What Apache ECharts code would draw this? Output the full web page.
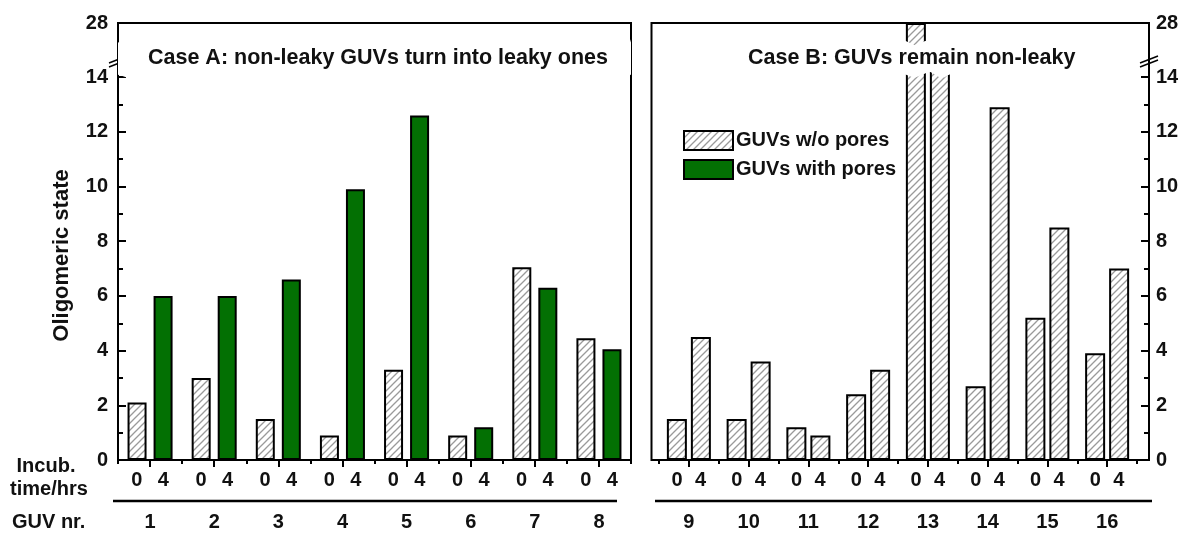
<!DOCTYPE html>
<html>
<head>
<meta charset="utf-8">
<script src="https://cdn.jsdelivr.net/npm/echarts@6/dist/echarts.min.js"></script>
<style>
html,body{margin:0;padding:0;background:#fff;}
#chart{width:1187px;height:533px;}
</style>
</head>
<body>
<div id="chart"></div>
<script>
// ---- data ----
const guvLeft = ['1','2','3','4','5','6','7','8'];
const guvRight = ['9','10','11','12','13','14','15','16'];
const timeLabels = ['0','4'];
const leftT0 = [2.1, 3.0, 1.5, 0.9, 3.3, 0.9, 7.05, 4.45];
const leftT4 = [6.0, 6.0, 6.6, 9.9, 12.6, 1.2, 6.3, 4.05];
const rightT0 = [1.5, 1.5, 1.2, 2.4, 28, 2.7, 5.2, 3.9];
const rightT4 = [4.5, 3.6, 0.9, 3.3, 20, 12.9, 8.5, 7.0];
const yTickLabels = [0, 2, 4, 6, 8, 10, 12, 14, 28];
const yMinorTicks = [1, 3, 5, 7, 9, 11, 13];
const yBreak = [14.1, 27.3];
const seriesNames = ['GUVs w/o pores', 'GUVs with pores'];
const titles = ['Case A: non-leaky GUVs turn into leaky ones', 'Case B: GUVs remain non-leaky'];

// ---- styles ----
const FONT = '"Liberation Sans", Arial, sans-serif';
function hatch() {
  const s = 7;
  const c = document.createElement('canvas');
  c.width = s; c.height = s;
  const ctx = c.getContext('2d');
  ctx.fillStyle = '#ffffff';
  ctx.fillRect(0, 0, s, s);
  ctx.strokeStyle = '#9a9a9a';
  ctx.lineWidth = 1.3;
  ctx.beginPath();
  ctx.moveTo(0, s); ctx.lineTo(s, 0);
  ctx.moveTo(-2, 2); ctx.lineTo(2, -2);
  ctx.moveTo(s - 2, s + 2); ctx.lineTo(s + 2, s - 2);
  ctx.stroke();
  return { image: c, repeat: 'repeat' };
}
const HATCH = hatch();
const GREEN = '#037003';

const chart = echarts.init(document.getElementById('chart'), null, { renderer: 'canvas' });

function yBase(grid, pos, offset) {
  return {
    type: 'value', gridIndex: grid, position: pos, offset: offset,
    min: 0, max: 28,
    breaks: [{ start: yBreak[0], end: yBreak[1], gap: 1.18 }],
    breakArea: {
      show: true,
      itemStyle: { color: '#ffffff', borderColor: '#ffffff', borderWidth: 0, opacity: 1 },
      zigzagAmplitude: 3
    },
    splitLine: { show: false }
  };
}
function yMajor(grid, pos, offset, margin, showName) {
  return Object.assign(yBase(grid, pos, offset), {
    name: showName ? 'Oligomeric state' : '',
    nameLocation: 'middle', nameGap: 45,
    nameTextStyle: { fontFamily: FONT, fontWeight: 'bold', fontSize: 22, color: '#111', padding: [0, 28, 0, 0] },
    axisLine: { show: true, lineStyle: { color: '#000', width: 2 } },
    axisTick: { show: true, inside: true, length: 8, customValues: yTickLabels, lineStyle: { color: '#000', width: 2 } },
    axisLabel: {
      margin: margin, fontFamily: FONT, fontWeight: 'bold', fontSize: 20, color: '#111',
      customValues: yTickLabels
    }
  });
}
function yMinor(grid, pos, offset) {
  return Object.assign(yBase(grid, pos, offset), {
    axisLine: { show: false },
    axisTick: { show: true, inside: true, length: 5, customValues: yMinorTicks, lineStyle: { color: '#000', width: 2 } },
    axisLabel: { show: false }
  });
}

function xAxisTime(grid, data, w) {
  return {
    type: 'category', gridIndex: grid, position: 'bottom', data: data,
    axisLine: { show: false },
    axisTick: { show: true, length: 4, alignWithLabel: false, lineStyle: { color: '#000', width: 2 } },
    axisLabel: {
      margin: 10, interval: 0,
      formatter: function () { return '{a|' + timeLabels[0] + '}{b|' + timeLabels[1] + '}'; },
      rich: {
        a: { width: w, align: 'center', fontFamily: FONT, fontWeight: 'bold', fontSize: 20, color: '#111' },
        b: { width: w, align: 'center', fontFamily: FONT, fontWeight: 'bold', fontSize: 20, color: '#111' }
      }
    },
    splitLine: { show: false }
  };
}
function xAxisGuv(grid, data) {
  return {
    type: 'category', gridIndex: grid, position: 'bottom', data: data,
    axisLine: { show: false },
    axisTick: { show: true, length: 7, alignWithLabel: true, lineStyle: { color: '#000', width: 2 } },
    axisLabel: { margin: 52, interval: 0, fontFamily: FONT, fontWeight: 'bold', fontSize: 20, color: '#111' },
    splitLine: { show: false }
  };
}

const barBorder = { borderColor: '#000', borderWidth: 2 };
const txt = (text, x, y, align) => ({
  type: 'text', silent: true, z: 100,
  style: { text: text, x: x, y: y, fill: '#111', font: 'bold 20px ' + FONT, textAlign: align || 'center', textVerticalAlign: 'middle' }
});
const ln = (x1, y1, x2, y2, w) => ({
  type: 'line', silent: true, z: 100,
  shape: { x1: x1, y1: y1, x2: x2, y2: y2 }, style: { stroke: '#000', lineWidth: w || 2 }
});
const box = (x, y, w, h) => ({
  type: 'rect', silent: true, z: 100,
  shape: { x: x, y: y, width: w, height: h }, style: { fill: 'none', stroke: '#000', lineWidth: 2 }
});
// axis-break "//" marks
const brk = (x, y) => [ln(x - 9, y + 3, x + 9, y - 4, 1.5), ln(x - 9, y + 7, x + 9, y, 1.5)];
const titleStyle = { fontFamily: FONT, fontWeight: 'bold', fontSize: 21.5, color: '#111' };

const option = {
  backgroundColor: '#fff',
  animation: false,
  title: [
    { text: titles[0], left: 148, top: 47, padding: 0, z: 200, textStyle: titleStyle },
    { text: titles[1], left: 748, top: 47, padding: 0, z: 200, textStyle: titleStyle }
  ],
  legend: {
    data: seriesNames, orient: 'vertical', left: 683, top: 130, padding: 0, z: 200,
    itemWidth: 49, itemHeight: 19, itemGap: 8, icon: 'rect',
    textStyle: { fontFamily: FONT, fontWeight: 'bold', fontSize: 20, color: '#111', padding: [0, 0, 0, -2] }
  },
  grid: [
    { left: 118, top: 23, width: 513, height: 437, show: false },
    { left: 659, top: 23, width: 478, height: 437, show: false }
  ],
  xAxis: [
    xAxisTime(0, guvLeft, 26.5),
    xAxisGuv(0, guvLeft),
    xAxisTime(1, guvRight, 23.4),
    xAxisGuv(1, guvRight)
  ],
  yAxis: [
    yMajor(0, 'left', 0, 10, true),
    yMajor(1, 'right', 12, 7, false),
    yMinor(0, 'left', 0),
    yMinor(1, 'right', 12)
  ],
  series: [
    { name: seriesNames[0], type: 'bar', xAxisIndex: 0, yAxisIndex: 0, data: leftT0, barWidth: 19, barGap: '37%', itemStyle: Object.assign({ color: HATCH }, barBorder) },
    { name: seriesNames[1], type: 'bar', xAxisIndex: 0, yAxisIndex: 0, data: leftT4, barWidth: 19, barGap: '37%', itemStyle: Object.assign({ color: GREEN }, barBorder) },
    { name: seriesNames[0], type: 'bar', xAxisIndex: 2, yAxisIndex: 1, data: rightT0, barWidth: 20, barGap: '20%', itemStyle: Object.assign({ color: HATCH }, barBorder) },
    { name: seriesNames[0], type: 'bar', xAxisIndex: 2, yAxisIndex: 1, data: rightT4, barWidth: 20, barGap: '20%', itemStyle: Object.assign({ color: HATCH }, barBorder) }
  ],
  graphic: [
    box(118, 23, 513, 437),
    box(651.5, 23, 497.5, 437),
    ...brk(118, 60),
    ...brk(1149, 60),
    ln(113, 501, 617, 501, 2.5),
    ln(655, 501, 1152, 501, 2.5),
    txt('Incub.', 46, 466),
    txt('time/hrs', 49, 489),
    txt('GUV nr.', 12, 522, 'left')
  ]
};
chart.setOption(option);
</script>
</body>
</html>
